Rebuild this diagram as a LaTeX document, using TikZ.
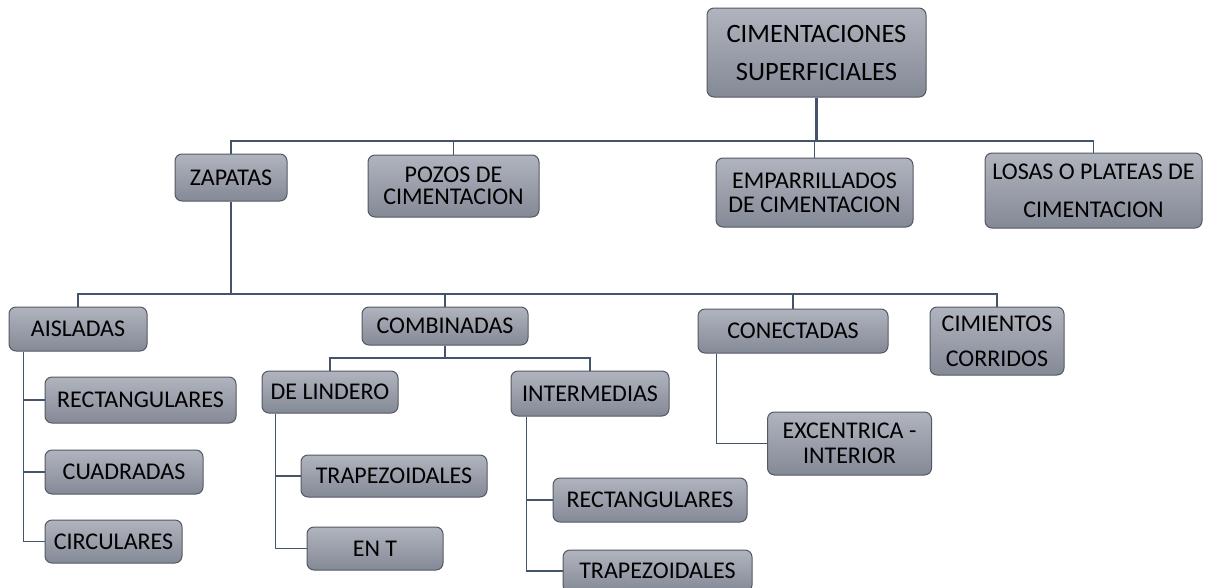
\documentclass[tikz,border=0pt]{standalone}
\usepackage{fontspec}
\setmainfont{Carlito}
\usepackage{tikz}
\definecolor{boxtop}{RGB}{176,180,190}
\definecolor{boxbot}{RGB}{132,137,150}
\definecolor{boxline}{RGB}{84,88,98}
\definecolor{wire}{RGB}{68,84,106}

\begin{document}
\begin{tikzpicture}[x=1pt,y=-1pt,
	box/.style={draw=boxline, line width=1pt, rounded corners=7pt, top color=boxtop, bottom color=boxbot, inner sep=0pt, align=center, font=\fontsize{24}{28}\selectfont},
	wire/.style={draw=wire, line width=1.8pt},
	trunk/.style={draw=wire, line width=2.8pt}]
			\useasboundingbox (0,0) rectangle (1205,587);
				% top level
				\node[box, minimum width=219, minimum height=89, font=\fontsize{26.5}{38}\selectfont] (root) at (816.5,52.5) {CIMENTACIONES\\SUPERFICIALES};
				\node[box, minimum width=112, minimum height=47] (zap) at (231,177.5) {ZAPATAS};
				\node[box, minimum width=171, minimum height=62, font=\fontsize{24}{22}\selectfont] (pozos) at (453.5,186) {POZOS DE\\CIMENTACION};
				\node[box, minimum width=197, minimum height=69, font=\fontsize{24}{24}\selectfont] (empar) at (814.5,192.5) {EMPARRILLADOS\\DE CIMENTACION};
				\node[box, minimum width=217, minimum height=75, font=\fontsize{24}{38}\selectfont] (losas) at (1093.5,190.5) {LOSAS O PLATEAS DE\\CIMENTACION};
				% zapatas
				\node[box, minimum width=138, minimum height=44] (aisl) at (78,329) {AISLADAS};
				\node[box, minimum width=166, minimum height=38] (comb) at (445,326) {COMBINADAS};
				\node[box, minimum width=190, minimum height=44] (conec) at (793,331) {CONECTADAS};
				\node[box, minimum width=134, minimum height=68, font=\fontsize{24}{35}\selectfont] (cimi) at (997,341) {CIMIENTOS\\CORRIDOS};
				% aisladas
				\node[box, minimum width=191, minimum height=46] (rectA) at (140.5,400) {RECTANGULARES};
				\node[box, minimum width=158, minimum height=44] (cuad) at (124,472) {CUADRADAS};
				\node[box, minimum width=137, minimum height=43] (circ) at (113.5,541.5) {CIRCULARES};
				% combinadas
				\node[box, minimum width=136, minimum height=42] (lind) at (330,392) {DE LINDERO};
				\node[box, minimum width=158, minimum height=45] (inter) at (590,393.5) {INTERMEDIAS};
				\node[box, minimum width=186, minimum height=42] (trapL) at (394,476) {TRAPEZOIDALES};
				\node[box, minimum width=136, minimum height=43] (ent) at (375,548.5) {EN T};
				\node[box, minimum width=194, minimum height=44] (rectI) at (650,500) {RECTANGULARES};
				\node[box, minimum width=189, minimum height=42] (trapI) at (657.5,571) {TRAPEZOIDALES};
				% conectadas
				\node[box, minimum width=164, minimum height=63, font=\fontsize{24}{25}\selectfont] (exc) at (849.5,443.5) {EXCENTRICA -\\INTERIOR};
				% buses
				\coordinate (b1) at (816.5,141);
				\coordinate (b2) at (231,294);
				\coordinate (b3) at (445,358);
				\draw[trunk] (root.south) -- (b1) -| (zap.north);
				\draw[wire] (b1) -| (pozos.north);
				\draw[wire] (b1) -| (empar.north);
				\draw[wire] (b1) -| (losas.north);
				\draw[trunk] (zap.south) -- (b2) -| (conec.north);
				\draw[wire] (b2) -| (aisl.north);
				\draw[wire] (b2) -| (comb.north);
				\draw[wire] (conec.north |- b2) -| (cimi.north);
				\draw[wire] (comb.south) -- (b3) -| (lind.north);
				\draw[wire] (b3) -| (inter.north);
				% side branches
				\coordinate (a0) at ([xshift=15]aisl.south west);
				\draw[wire] (a0) |- (rectA.west);
				\draw[wire] (a0) |- (cuad.west);
				\draw[wire] (a0) |- (circ.west);
				\coordinate (l0) at ([xshift=14]lind.south west);
				\draw[wire] (l0) |- (trapL.west);
				\draw[wire] (l0) |- (ent.west);
				\coordinate (i0) at ([xshift=16]inter.south west);
				\draw[wire] (i0) |- (rectI.west);
				\draw[wire] (i0) |- (trapI.west);
				\coordinate (c0) at ([xshift=19]conec.south west);
				\draw[wire] (c0) |- (exc.west);
			\end{tikzpicture}
\end{document}
